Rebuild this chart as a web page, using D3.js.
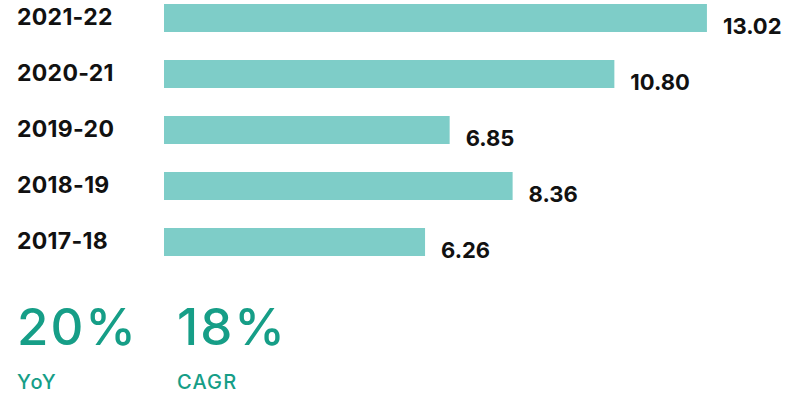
<!DOCTYPE html>
<html><head><meta charset="utf-8">
<script src="https://cdn.jsdelivr.net/npm/d3@7/dist/d3.min.js"></script>
<style>
html,body{margin:0;padding:0;background:#fff;}
svg{display:block;}
text{font-family:Inter,"Open Sans",sans-serif;}
</style></head>
<body>
<script>
const categories = ["2021-22","2020-21","2019-20","2018-19","2017-18"];
const values = [13.02, 10.80, 6.85, 8.36, 6.26];
const valueLabels = ["13.02","10.80","6.85","8.36","6.26"];
const stats = ["20%","18%"];
const statLabels = ["YoY","CAGR"];

const W = 804, H = 393;
const svg = d3.select("body").append("svg").attr("width", W).attr("height", H);

const x = d3.scaleLinear().domain([0, 14]).range([164, 164 + 14 * 41.7]);
const y = d3.scaleBand().domain(categories).range([-10, 270]).paddingInner(0.5).paddingOuter(0.25);

const data = categories.map((c, i) => ({c, v: values[i], l: valueLabels[i]}));

svg.selectAll("rect.bar").data(data).join("rect")
  .attr("class", "bar")
  .attr("x", x(0))
  .attr("y", d => y(d.c))
  .attr("width", d => x(d.v) - x(0))
  .attr("height", y.bandwidth())
  .attr("fill", "#7ecdc8");

svg.selectAll("text.cat").data(data).join("text")
  .attr("class", "cat")
  .attr("x", 17)
  .attr("y", d => y(d.c) + y.bandwidth() / 2 + 7)
  .attr("font-size", 23)
  .attr("font-weight", 700)
  .attr("letter-spacing", 0.3)
  .attr("fill", "#111")
  .text(d => d.c);

svg.selectAll("text.val").data(data).join("text")
  .attr("class", "val")
  .attr("x", d => x(d.v) + 16)
  .attr("y", d => y(d.c) + y.bandwidth() + 1.5)
  .attr("font-size", 22)
  .attr("font-weight", 700)
  .attr("fill", "#111")
  .text(d => d.l);

const sx = [17, 177];
svg.selectAll("text.stat").data(stats).join("text")
  .attr("class", "stat")
  .attr("x", (d, i) => sx[i])
  .attr("y", 345)
  .attr("font-size", 51)
  .attr("font-weight", 500)
  .attr("letter-spacing", 2)
  .attr("fill", "#169e87")
  .text(d => d);

svg.selectAll("text.statl").data(statLabels).join("text")
  .attr("class", "statl")
  .attr("x", (d, i) => sx[i])
  .attr("y", 389)
  .attr("font-size", 20)
  .attr("font-weight", 500)
  .attr("letter-spacing", 1.2)
  .attr("fill", "#169e87")
  .text(d => d);
</script>
</body></html>
